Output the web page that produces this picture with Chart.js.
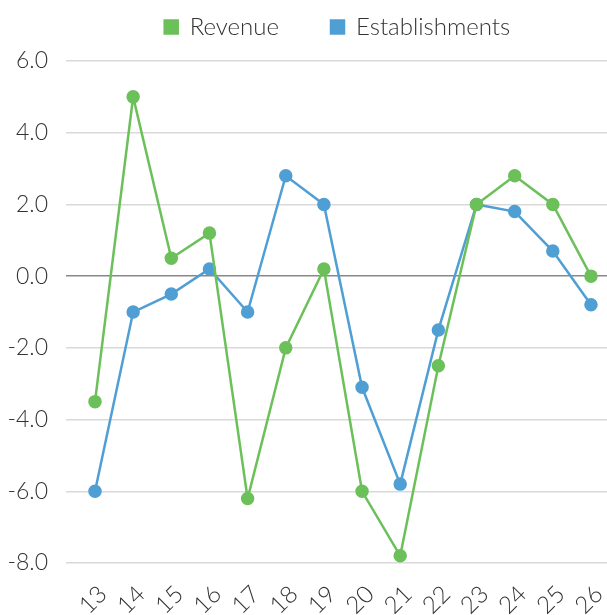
<!DOCTYPE html>
<html>
<head>
<meta charset="utf-8">
<script src="https://cdn.jsdelivr.net/npm/chart.js@4"></script>
<style>
html,body{margin:0;padding:0;background:#fff;}
#wrap{width:607px;height:615px;}
</style>
</head>
<body>
<div id="wrap"><canvas id="c" width="607" height="615"></canvas></div>
<script>
const categories = ["13","14","15","16","17","18","19","20","21","22","23","24","25","26"];
const revenue = [-3.5, 5.0, 0.5, 1.2, -6.2, -2.0, 0.2, -6.0, -7.8, -2.5, 2.0, 2.8, 2.0, 0.0];
const establishments = [-6.0, -1.0, -0.5, 0.2, -1.0, 2.8, 2.0, -3.1, -5.8, -1.5, 2.0, 1.8, 0.7, -0.8];
const yTicks = [-8, -6, -4, -2, 0, 2, 4, 6];

const toPts = arr => arr.map((v, i) => ({x: Number(categories[i]), y: v}));
const FONT = "Lato";
const GREEN = "#6cc05a";
const BLUE = "#4f9fd4";

const legendTweak = {
  id: 'legendTweak',
  beforeInit(chart) {
    const l = chart.legend;
    if (!l) return;
    const of = l.fit.bind(l);
    l.fit = function() { of(); this.height = 99; };
    const od = l.draw.bind(l);
    l.draw = function(a) {
      const ctx = this.ctx;
      ctx.save(); ctx.translate(1, 1); od(a); ctx.restore();
    };
  }
};

new Chart(document.getElementById('c'), {
  type: 'line',
  data: {
    datasets: [
      {label: 'Revenue', data: toPts(revenue), borderColor: GREEN, backgroundColor: GREEN,
       borderWidth: 2.5, pointRadius: 5.5, pointHoverRadius: 5.5, tension: 0, clip: false},
      {label: 'Establishments', data: toPts(establishments), borderColor: BLUE, backgroundColor: BLUE,
       borderWidth: 2.5, pointRadius: 5.5, pointHoverRadius: 5.5, tension: 0, clip: false}
    ]
  },
  plugins: [legendTweak],
  options: {
    responsive: false,
    animation: false,
    layout: {autoPadding: false, padding: {top: -38, left: 0, right: 0, bottom: 0}},
    plugins: {
      legend: {
        position: 'top',
        fullSize: false,
        labels: {
          font: {family: FONT, size: 24, weight: 300},
          color: '#333',
          boxWidth: 13, boxHeight: 13, padding: 52
        }
      },
      tooltip: {enabled: false}
    },
    scales: {
      x: {
        type: 'linear',
        min: 12.24, max: 26.42,
        afterBuildTicks: s => { s.ticks = categories.map(c => ({value: Number(c)})); },
        afterFit: s => { s.height = 52; s.paddingLeft = 0; s.paddingRight = 0; },
        ticks: {
          autoSkip: false,
          callback: v => String(v),
          font: {family: FONT, size: 24, weight: 300},
          color: '#333',
          maxRotation: 45, minRotation: 45,
          labelOffset: 8,
          padding: 9
        },
        grid: {display: false},
        border: {display: false}
      },
      y: {
        min: -8, max: 6,
        afterBuildTicks: s => { s.ticks = yTicks.map(v => ({value: v})); },
        afterFit: s => { s.width = 66; },
        ticks: {
          callback: v => Number(v).toFixed(1),
          font: {family: FONT, size: 23, weight: 300},
          color: '#333',
          padding: 18
        },
        grid: {
          color: ctx => ctx.tick && ctx.tick.value === 0 ? '#888' : '#d9d9d9',
          lineWidth: 1.5,
          drawTicks: false
        },
        border: {display: false}
      }
    }
  }
});
</script>
</body>
</html>
